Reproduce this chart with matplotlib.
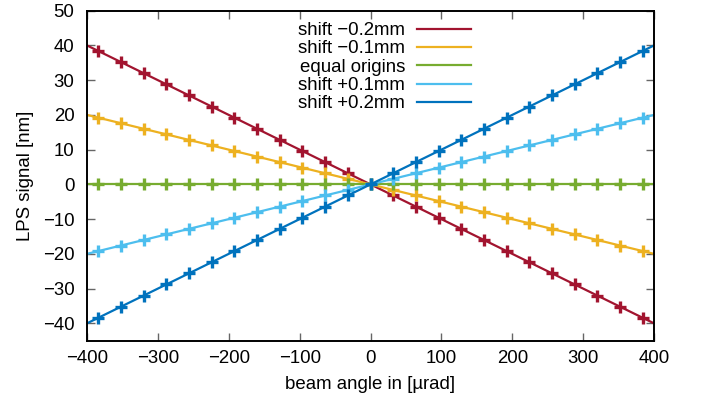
import matplotlib
matplotlib.use("Agg")
import matplotlib.pyplot as plt

plt.rcParams['font.family'] = ['Liberation Sans', 'DejaVu Sans']

# --- measured points (beam angle in µrad, LPS signal in nm) ---
angle = [-384, -352, -320, -288, -256, -224, -192, -160, -128, -96, -64, -32, 0,
         32, 64, 96, 128, 160, 192, 224, 256, 288, 320, 352, 384]

sig_m02 = [38.4, 35.2, 32.0, 28.8, 25.6, 22.4, 19.2, 16.0, 12.8, 9.6, 6.4, 3.2, 0.0,
           -3.2, -6.4, -9.6, -12.8, -16.0, -19.2, -22.4, -25.6, -28.8, -32.0, -35.2, -38.4]
sig_m01 = [19.2, 17.6, 16.0, 14.4, 12.8, 11.2, 9.6, 8.0, 6.4, 4.8, 3.2, 1.6, 0.0,
           -1.6, -3.2, -4.8, -6.4, -8.0, -9.6, -11.2, -12.8, -14.4, -16.0, -17.6, -19.2]
sig_eq = [0.0] * 25
sig_p01 = [-19.2, -17.6, -16.0, -14.4, -12.8, -11.2, -9.6, -8.0, -6.4, -4.8, -3.2, -1.6, 0.0,
           1.6, 3.2, 4.8, 6.4, 8.0, 9.6, 11.2, 12.8, 14.4, 16.0, 17.6, 19.2]
sig_p02 = [-38.4, -35.2, -32.0, -28.8, -25.6, -22.4, -19.2, -16.0, -12.8, -9.6, -6.4, -3.2, 0.0,
           3.2, 6.4, 9.6, 12.8, 16.0, 19.2, 22.4, 25.6, 28.8, 32.0, 35.2, 38.4]

# fitted lines over the full range
fit_x = [-400, 400]
fit_m02 = [40, -40]
fit_m01 = [20, -20]
fit_eq = [0, 0]
fit_p01 = [-20, 20]
fit_p02 = [-40, 40]

labels = ['shift \u22120.2mm', 'shift \u22120.1mm', 'equal origins',
          'shift +0.1mm', 'shift +0.2mm']
colors = ['#A2142F', '#EDB120', '#77AC30', '#4DBEEE', '#0072BD']

points = [sig_m02, sig_m01, sig_eq, sig_p01, sig_p02]
fits = [fit_m02, fit_m01, fit_eq, fit_p01, fit_p02]

FS = 13.4

fig = plt.figure(figsize=(7.02, 4.05), dpi=100)
ax = fig.add_axes([87 / 702, 1 - 340.7 / 405, (654 - 87) / 702, (340.7 - 10.7) / 405])

for lab, col, pts, fit in zip(labels, colors, points, fits):
    ax.plot(fit_x, fit, color=col, lw=1.6, label=lab)
    ax.plot(angle, pts, ls='none', marker='+', ms=9, mew=2.4, color=col)

ax.set_xlim(-400, 400)
ax.set_ylim(-45, 50)
ax.set_xticks(range(-400, 401, 100))
ax.set_yticks(range(-40, 51, 10))
ax.tick_params(direction='in', top=True, right=True, length=6, width=1,
               color='0.4', labelsize=FS)
ax.tick_params(axis='x', pad=7)
ax.tick_params(axis='y', pad=9)
for s in ax.spines.values():
    s.set_linewidth(1.4)

ax.set_xlabel('beam angle in [\u00b5rad]', fontsize=FS, labelpad=6)
ax.set_ylabel('LPS signal [nm]', fontsize=FS, labelpad=6)

leg = ax.legend(loc='upper right', bbox_to_anchor=(471 / 702, 1 - 22 / 405),
                bbox_transform=fig.transFigure, frameon=False, markerfirst=False,
                fontsize=FS, handlelength=2.9, labelspacing=0.07,
                handletextpad=0.65, borderpad=0, borderaxespad=0)

fig.savefig('out.png', dpi=100)
